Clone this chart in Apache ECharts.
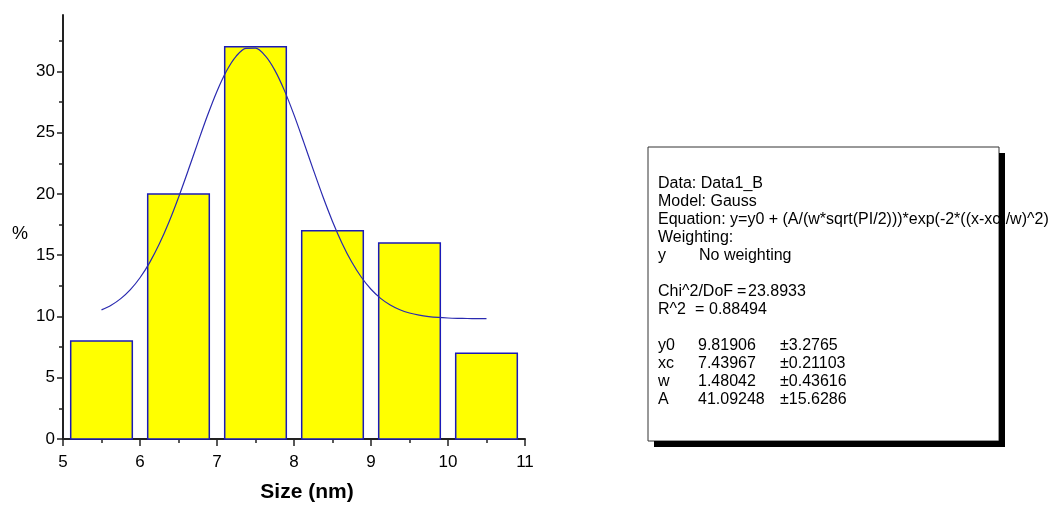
<!DOCTYPE html>
<html>
<head>
<meta charset="utf-8">
<script src="https://cdn.jsdelivr.net/npm/echarts@6/dist/echarts.min.js"></script>
<style>
  html, body { margin: 0; padding: 0; background: #fff; }
  #chart { width: 1060px; height: 505px; }
</style>
</head>
<body>
<div id="chart"></div>
<script>
// Histogram of particle sizes (bin centres in nm, share in %)
const binCenters = [5.5, 6.5, 7.5, 8.5, 9.5, 10.5];
const percents = [8, 20, 32, 17, 16, 7];

// Fitted Gauss curve, sampled along the size axis
const fitX = [5.5, 5.625, 5.75, 5.875, 6.0, 6.125, 6.25, 6.375, 6.5, 6.625, 6.75, 6.875,
  7.0, 7.125, 7.25, 7.375, 7.5, 7.625, 7.75, 7.875, 8.0, 8.125, 8.25, 8.375,
  8.5, 8.625, 8.75, 8.875, 9.0, 9.125, 9.25, 9.375, 9.5, 9.625, 9.75, 9.875,
  10.0, 10.125, 10.25, 10.375, 10.5];
const fitY = [10.534, 10.916, 11.455, 12.191, 13.160, 14.393, 15.906, 17.691, 19.713, 21.905, 24.168, 26.374,
  28.384, 30.053, 31.251, 31.882, 31.893, 31.283, 30.103, 28.449, 26.448, 24.246, 21.983, 19.787,
  17.757, 15.963, 14.441, 13.198, 12.220, 11.477, 10.932, 10.545, 10.279, 10.103, 9.989, 9.918,
  9.875, 9.850, 9.835, 9.828, 9.823];

// Axis ticks
const yTicks = [0, 5, 10, 15, 20, 25, 30];
const yMinorTicks = [2.5, 7.5, 12.5, 17.5, 22.5, 27.5, 32.5];

// Fit report
const reportHead = [
  'Data: Data1_B',
  'Model: Gauss',
  'Equation: y=y0 + (A/(w*sqrt(PI/2)))*exp(-2*((x-xc)/w)^2)',
  'Weighting:'
];
const weightRow = ['y', 'No weighting'];
const statRows = [['Chi^2/DoF', '=', '23.8933'], ['R^2', '=', '0.88494']];
const paramNames = ['y0', 'xc', 'w', 'A'];
const paramValues = ['9.81906', '7.43967', '1.48042', '41.09248'];
const paramErrors = ['\u00b13.2765', '\u00b10.21103', '\u00b10.43616', '\u00b115.6286'];

const FONT = '"Liberation Sans", Arial, Helvetica, sans-serif';
const BAR_HALF = 0.4;

const chart = echarts.init(document.getElementById('chart'), null, { renderer: 'canvas' });

// Fit report box
const boxL = 648, boxT = 147, boxW = 351, boxH = 294, shadow = 6;
const lineH = 18, textX = 658, firstY = 184;
const txt = (x, y, s) => ({
  type: 'text', x: x, y: y, z: 10,
  style: { text: s, fill: '#000', font: '16px ' + FONT, textVerticalAlign: 'middle' }
});
const report = [];
report.push({ type: 'rect', z: 5, shape: { x: boxL, y: boxT, width: boxW, height: boxH },
  style: { fill: '#fff', stroke: '#333', lineWidth: 1 } });
reportHead.forEach((s, i) => report.push(txt(textX, firstY + i * lineH, s)));
report.push(txt(textX, firstY + 4 * lineH, weightRow[0]));
report.push(txt(699, firstY + 4 * lineH, weightRow[1]));
report.push(txt(textX, firstY + 6 * lineH, statRows[0][0]));
report.push(txt(737, firstY + 6 * lineH, statRows[0][1]));
report.push(txt(748, firstY + 6 * lineH, statRows[0][2]));
report.push(txt(textX, firstY + 7 * lineH, statRows[1][0]));
report.push(txt(695, firstY + 7 * lineH, statRows[1][1]));
report.push(txt(709, firstY + 7 * lineH, statRows[1][2]));
paramNames.forEach((n, i) => {
  const y = firstY + (9 + i) * lineH;
  report.push(txt(textX, y, n));
  report.push(txt(698, y, paramValues[i]));
  report.push(txt(780, y, paramErrors[i]));
});
// drop shadow drawn over the box edges
report.push({ type: 'rect', z: 20, shape: { x: boxL + boxW, y: boxT + shadow, width: shadow, height: boxH },
  style: { fill: '#000' } });
report.push({ type: 'rect', z: 20, shape: { x: boxL + shadow, y: boxT + boxH, width: boxW, height: shadow },
  style: { fill: '#000' } });
// axis titles
report.push({ type: 'text', x: 20, y: 234, z: 10,
  style: { text: '%', fill: '#000', font: '18px ' + FONT, textAlign: 'center', textVerticalAlign: 'middle' } });
report.push({ type: 'text', x: 307, y: 492, z: 10,
  style: { text: 'Size (nm)', fill: '#000', font: 'bold 21px ' + FONT, textAlign: 'center', textVerticalAlign: 'middle' } });

chart.setOption({
  animation: false,
  backgroundColor: '#fff',
  grid: { left: 63, right: 535, top: 15, bottom: 66, containLabel: false },
  xAxis: {
    type: 'value', min: 5, max: 11, interval: 1,
    axisLine: { onZero: false, lineStyle: { color: '#222', width: 2 } },
    axisTick: { show: true, inside: false, length: 7, lineStyle: { color: '#222', width: 1.5 } },
    minorTick: { show: true, splitNumber: 2, length: 4, lineStyle: { color: '#222', width: 1.5 } },
    axisLabel: { fontFamily: FONT, fontSize: 17, color: '#000', margin: 15 },
    splitLine: { show: false }
  },
  yAxis: [{
    type: 'value', min: 0, max: 34.6,
    axisLine: { show: true, lineStyle: { color: '#222', width: 2 } },
    axisTick: { show: true, length: 6, customValues: yTicks, lineStyle: { color: '#222', width: 1.5 } },
    axisLabel: { fontFamily: FONT, fontSize: 17, color: '#000', margin: 8, customValues: yTicks },
    splitLine: { show: false }
  }, {
    type: 'value', min: 0, max: 34.6, position: 'left',
    axisLine: { show: false },
    axisTick: { show: true, length: 4, customValues: yMinorTicks, lineStyle: { color: '#222', width: 1.5 } },
    axisLabel: { show: false },
    splitLine: { show: false }
  }],
  series: [{
    type: 'custom',
    xAxisIndex: 0, yAxisIndex: 0,
    data: binCenters.map((c, i) => [c, percents[i]]),
    renderItem: function (params, api) {
      const c = api.value(0), v = api.value(1);
      const p0 = api.coord([c - BAR_HALF, v]);
      const p1 = api.coord([c + BAR_HALF, 0]);
      return {
        type: 'rect',
        shape: { x: p0[0], y: p0[1], width: p1[0] - p0[0], height: p1[1] - p0[1] },
        style: { fill: '#ffff00', stroke: '#1a1ab8', lineWidth: 1.5 }
      };
    },
    z: 2
  }, {
    type: 'line',
    xAxisIndex: 0, yAxisIndex: 0,
    data: fitX.map((x, i) => [x, fitY[i]]),
    smooth: 0.3,
    showSymbol: false,
    lineStyle: { color: '#2a2ab0', width: 1.2 },
    z: 3
  }],
  graphic: report
});
</script>
</body>
</html>
